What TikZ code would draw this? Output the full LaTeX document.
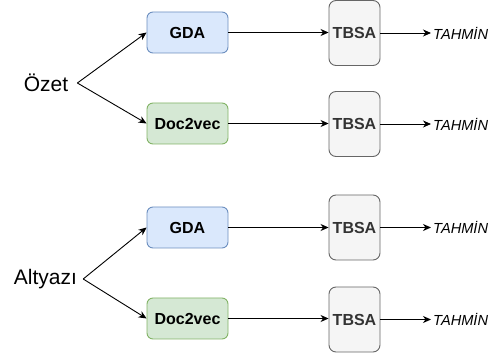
\documentclass[tikz,border=0pt]{standalone}
\usepackage{fontspec}
\setmainfont{Liberation Sans}
\usetikzlibrary{arrows.meta}
\definecolor{gdafill}{HTML}{DAE8FC}
\definecolor{gdaline}{HTML}{6C8EBF}
\definecolor{docfill}{HTML}{D5E8D4}
\definecolor{docline}{HTML}{82B366}
\definecolor{tbfill}{HTML}{F5F5F5}
\definecolor{tbline}{HTML}{666666}
\definecolor{tbtext}{HTML}{333333}
\tikzset{
  box/.style={rounded corners=6pt, line width=0.9pt, minimum width=81pt, minimum height=41pt, inner sep=0pt,
    font=\fontsize{16}{19}\selectfont\bfseries},
  gdabox/.style={box, fill=gdafill, draw=gdaline},
  docbox/.style={box, fill=docfill, draw=docline},
  tbbox/.style={rounded corners=7pt, line width=0.9pt, minimum width=51pt, minimum height=65pt, inner sep=0pt,
    fill=tbfill, draw=tbline, text=tbtext, font=\fontsize{16}{19}\selectfont\bfseries},
  srclabel/.style={inner ysep=0pt, font=\fontsize{21}{25}\selectfont},
  predlabel/.style={anchor=west, inner sep=0pt, font=\fontsize{14.6}{17}\selectfont\itshape},
  conn/.style={line width=0.9pt, -{Stealth[length=8pt, width=7pt, inset=2.5pt]}}
}
\begin{document}
\begin{tikzpicture}[x=1pt, y=-1pt]
\useasboundingbox (0,0) rectangle (498,355);
% top group
\node[srclabel, inner xsep=9pt] (oz) at (46,83) {Özet};
\node[gdabox] (g1) at (187.5,32.5) {GDA};
\node[docbox] (d1) at (187.5,123.5) {Doc2vec};
\node[tbbox] (t1) at (354.5,33) {TBSA};
\node[tbbox] (t2) at (354.5,124) {TBSA};
\node[predlabel] (p1) at (433,33) {TAHMİN};
\node[predlabel] (p2) at (433,124) {TAHMİN};
% bottom group
\node[srclabel, inner xsep=6pt] (al) at (45.5,279) {Altyazı};
\node[gdabox] (g2) at (187.5,227.5) {GDA};
\node[docbox] (d2) at (187.5,318.5) {Doc2vec};
\node[tbbox] (t3) at (354.5,227.5) {TBSA};
\node[tbbox] (t4) at (354.5,319.5) {TBSA};
\node[predlabel] (p3) at (433,227.5) {TAHMİN};
\node[predlabel] (p4) at (433,319.5) {TAHMİN};
% connectors
\draw[conn] (oz.east) -- (g1.west);
\draw[conn] (oz.east) -- (d1.west);
\draw[conn] (al.east) -- (g2.west);
\draw[conn] (al.east) -- (d2.west);
\draw[conn] (g1.east) -- (t1.west |- g1.east);
\draw[conn] (d1.east) -- (t2.west |- d1.east);
\draw[conn] (g2.east) -- (t3.west |- g2.east);
\draw[conn] (d2.east) -- (t4.west |- d2.east);
\draw[conn] (t1.east |- p1.west) -- ([xshift=-2pt]p1.west);
\draw[conn] (t2.east |- p2.west) -- ([xshift=-2pt]p2.west);
\draw[conn] (t3.east |- p3.west) -- ([xshift=-2pt]p3.west);
\draw[conn] (t4.east |- p4.west) -- ([xshift=-2pt]p4.west);
\end{tikzpicture}
\end{document}
